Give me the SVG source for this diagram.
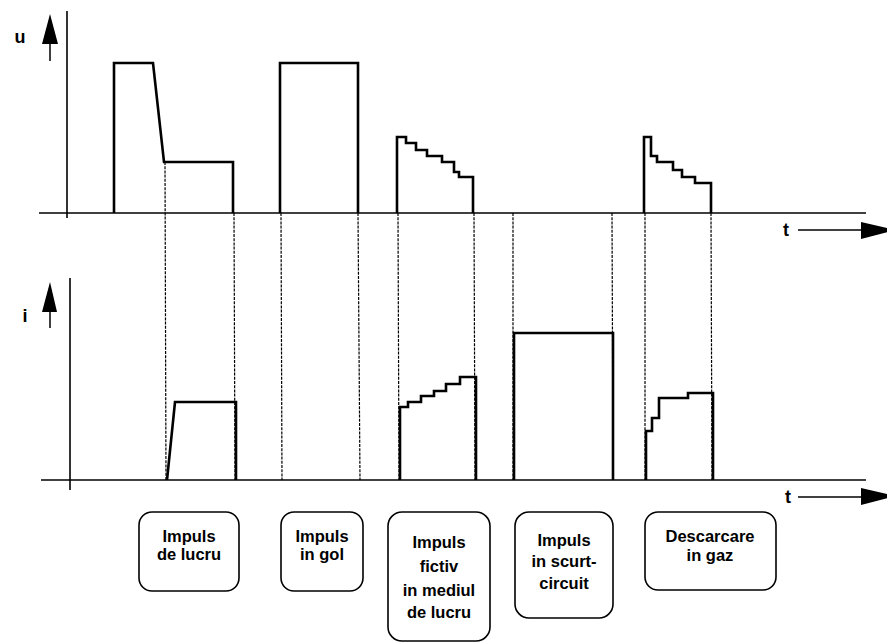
<svg xmlns="http://www.w3.org/2000/svg" width="887" height="643" viewBox="0 0 887 643">
  <style>
    .axis { stroke: #000; stroke-width: 1.6; fill: none; }
    .wave { stroke: #000; stroke-width: 2.6; fill: none; stroke-linejoin: miter; }
    .guide { stroke: #000; stroke-width: 1.2; stroke-dasharray: 3 1.2; fill: none; }
    .box { stroke: #000; stroke-width: 1.6; fill: #fff; }
    .lbl { font-family: "Liberation Sans", Arial, sans-serif; font-weight: bold; font-size: 16.5px; fill: #000; text-anchor: middle; }
    .ax { font-family: "Liberation Sans", Arial, sans-serif; font-weight: bold; font-size: 18px; fill: #000; }
  </style>

  <!-- axes -->
  <g id="axes">
    <line class="axis" x1="67" y1="11" x2="67" y2="218"/>
    <line class="axis" x1="39" y1="213" x2="866" y2="213"/>
    <line class="axis" x1="70" y1="278" x2="70" y2="490"/>
    <line class="axis" x1="41" y1="480" x2="866" y2="480"/>
    <!-- u axis arrow -->
    <polygon points="50,14 42,44 58,44" fill="#000"/>
    <line x1="50" y1="44" x2="50" y2="61" stroke="#000" stroke-width="1.5"/>
    <text class="ax" x="20" y="43" text-anchor="middle">u</text>
    <!-- i axis arrow -->
    <polygon points="50,282 42,312 57,312" fill="#000"/>
    <line x1="50" y1="312" x2="50" y2="328" stroke="#000" stroke-width="1.5"/>
    <text class="ax" x="25" y="322" text-anchor="middle">i</text>
    <!-- time arrows -->
    <text class="ax" x="786" y="236" text-anchor="middle">t</text>
    <line x1="798" y1="230" x2="864" y2="230" stroke="#000" stroke-width="1.6"/>
    <polygon points="861,222 896,230 861,239" fill="#000"/>
    <text class="ax" x="788" y="503" text-anchor="middle">t</text>
    <line x1="798" y1="497" x2="864" y2="497" stroke="#000" stroke-width="1.6"/>
    <polygon points="861,488 896,496 861,505" fill="#000"/>
  </g>

  <!-- connectors: dashed guides between voltage and current traces -->
  <g id="connectors">
    <line class="guide" x1="165" y1="162" x2="166" y2="480"/>
    <line class="guide" x1="234" y1="213" x2="235" y2="480"/>
    <line class="guide" x1="281" y1="213" x2="282" y2="480"/>
    <line class="guide" x1="358" y1="213" x2="360" y2="480"/>
    <line class="guide" x1="398" y1="213" x2="399" y2="480"/>
    <line class="guide" x1="474" y1="213" x2="475" y2="480"/>
    <line class="guide" x1="513" y1="213" x2="513" y2="480"/>
    <line class="guide" x1="612" y1="213" x2="613" y2="480"/>
    <line class="guide" x1="645" y1="213" x2="645" y2="480"/>
    <line class="guide" x1="711" y1="213" x2="712" y2="480"/>
  </g>

  <!-- voltage traces -->
  <g id="voltage">
    <polyline class="wave" points="114,213 114,63 153,63 164,162 233,162 233,213"/>
    <polyline class="wave" points="280,213 280,63 358,63 358,213"/>
    <polyline class="wave" points="397,213 397,137 406,137 406,143 416,143 416,150 427,150 427,156 442,156 442,162 454,162 454,172 459,172 459,177 473,177 473,213"/>
    <polyline class="wave" points="644,213 644,137 651,137 651,156 657,156 657,162 673,162 673,170 682,170 682,177 695,177 695,183 711,183 711,213"/>
  </g>

  <!-- current traces -->
  <g id="current">
    <polyline class="wave" points="167,480 175,402 236,402 236,480"/>
    <polyline class="wave" points="400,480 400,407 408,407 408,402 421,402 421,396 434,396 434,391 446,391 446,384 460,384 460,377 476,377 476,480"/>
    <polyline class="wave" points="514,480 514,333 613,333 613,480"/>
    <polyline class="wave" points="646,480 646,431 652,431 652,418 659,418 659,398 688,398 688,393 713,393 713,480"/>
  </g>

  <!-- labels -->
  <g id="box-lucru">
    <rect class="box" x="139" y="512" width="100" height="79" rx="13"/>
    <text class="lbl" x="189" y="542">Impuls</text>
    <text class="lbl" x="189" y="560">de lucru</text>
  </g>
  <g id="box-gol">
    <rect class="box" x="281" y="512" width="82" height="79" rx="13"/>
    <text class="lbl" x="322" y="542">Impuls</text>
    <text class="lbl" x="322" y="560">in gol</text>
  </g>
  <g id="box-fictiv">
    <rect class="box" x="388" y="512" width="102" height="129" rx="14"/>
    <text class="lbl" x="439" y="548">Impuls</text>
    <text class="lbl" x="439" y="572">fictiv</text>
    <text class="lbl" x="439" y="596">in mediul</text>
    <text class="lbl" x="439" y="618">de lucru</text>
  </g>
  <g id="box-scurtcircuit">
    <rect class="box" x="515" y="512" width="98" height="106" rx="14"/>
    <text class="lbl" x="564" y="546">Impuls</text>
    <text class="lbl" x="564" y="567">in scurt-</text>
    <text class="lbl" x="564" y="589">circuit</text>
  </g>
  <g id="box-gaz">
    <rect class="box" x="645" y="512" width="131" height="78" rx="13"/>
    <text class="lbl" x="710" y="542">Descarcare</text>
    <text class="lbl" x="710" y="561">in gaz</text>
  </g>
</svg>
